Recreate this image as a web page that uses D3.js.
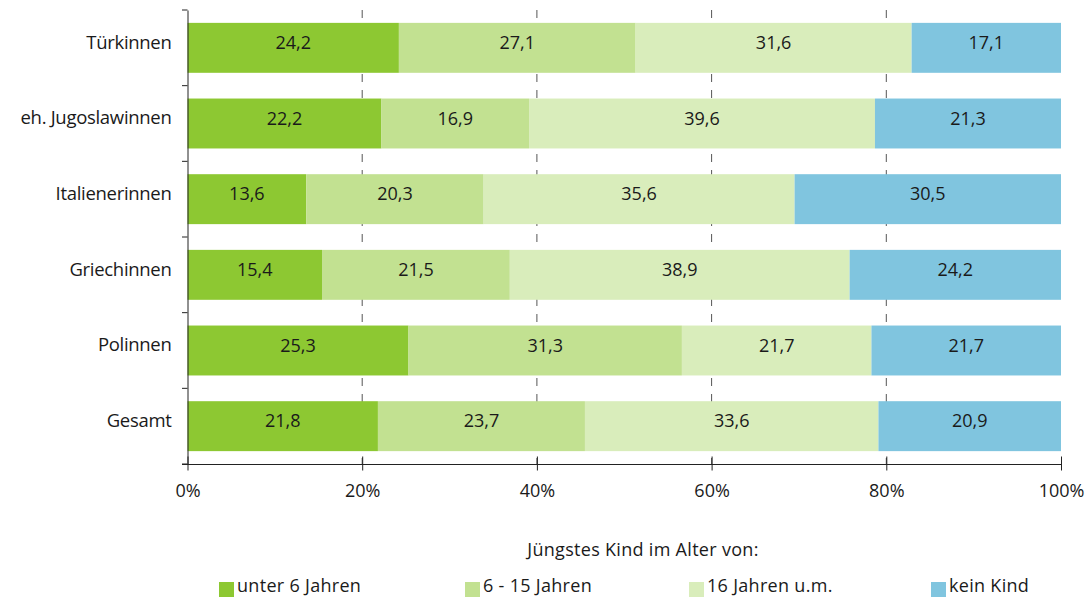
<!DOCTYPE html>
<html>
<head>
<meta charset="utf-8">
<script src="https://cdn.jsdelivr.net/npm/d3@7"></script>
<style>
  body { margin: 0; background: #fff; }
  text { font-family: "Open Sans", sans-serif; fill: #1a1a1a; }
</style>
</head>
<body>
<div id="chart-area"></div>
<script>
// data
let categories = ["Türkinnen", "eh. Jugoslawinnen", "Italienerinnen", "Griechinnen", "Polinnen", "Gesamt"]
let seriesNames = ["unter 6 Jahren", "6 - 15 Jahren", "16 Jahren u.m.", "kein Kind"]
let under6 = [24.2, 22.2, 13.6, 15.4, 25.3, 21.8]
let age6to15 = [27.1, 16.9, 20.3, 21.5, 31.3, 23.7]
let age16plus = [31.6, 39.6, 35.6, 38.9, 21.7, 33.6]
let noChild = [17.1, 21.3, 30.5, 24.2, 21.7, 20.9]
let tickValues = [0, 20, 40, 60, 80, 100]
let legendTitle = "Jüngstes Kind im Alter von:"

let colors = ["#8dc832", "#c2e191", "#d9edbb", "#80c5df"]

let rows = categories.map((c, i) => {
  return { cat: c, vals: [under6[i], age6to15[i], age16plus[i], noChild[i]] }
})

let svg = d3.select("#chart-area").append("svg")
            .attr("width", 1089)
            .attr("height", 601)

let x = d3.scaleLinear().domain([0, 100]).range([187.5, 1061])
let y = d3.scaleBand().domain(categories).range([10, 464]).paddingInner(0.34).paddingOuter(0.17)

// gridlines
svg.selectAll(".grid")
   .data([20, 40, 60, 80])
   .enter()
   .append("line")
   .attr("x1", d => x(d))
   .attr("x2", d => x(d))
   .attr("y1", 10)
   .attr("y2", 464)
   .attr("stroke", "#555")
   .attr("stroke-width", 1)
   .attr("stroke-dasharray", "8,8")

// bars
let groups = svg.selectAll(".row")
                .data(rows)
                .enter()
                .append("g")

groups.each(function(d) {
  let g = d3.select(this)
  let start = 0
  let segs = d.vals.map((v, k) => {
    let s = { x0: start, v: v, k: k }
    start += v
    return s
  })
  let total = start
  g.selectAll("rect")
   .data(segs)
   .enter()
   .append("rect")
   .attr("x", s => x(s.x0 / total * 100))
   .attr("y", y(d.cat))
   .attr("width", s => x(s.v / total * 100) - x(0))
   .attr("height", y.bandwidth())
   .attr("fill", s => colors[s.k])
  g.selectAll("text")
   .data(segs)
   .enter()
   .append("text")
   .attr("x", s => x((s.x0 + s.v / 2) / total * 100))
   .attr("y", y(d.cat) + y.bandwidth() / 2 - 5)
   .attr("dy", "0.35em")
   .attr("text-anchor", "middle")
   .style("font-size", "18px")
   .text(s => s.v.toFixed(1).replace(".", ","))
})

// y axis
let yAxis = d3.axisLeft(y).tickSize(0).tickPadding(16)
let yg = svg.append("g").attr("transform", "translate(187.5,0)").call(yAxis)
yg.select(".domain").attr("stroke", "#222")
yg.selectAll("text").style("font-size", "18.5px").style("letter-spacing", "-0.3px").attr("dy", "0.05em")
svg.selectAll(".ytick")
   .data(d3.range(categories.length + 1))
   .enter()
   .append("line")
   .attr("x1", 182)
   .attr("x2", 187.5)
   .attr("y1", i => 10 + i * (454 / categories.length))
   .attr("y2", i => 10 + i * (454 / categories.length))
   .attr("stroke", "#222")

// x axis
let xAxis = d3.axisBottom(x).tickValues(tickValues).tickSize(6).tickPadding(14).tickFormat(d => d + "%")
let xg = svg.append("g").attr("transform", "translate(0,464.5)").call(xAxis)
xg.select(".domain").attr("d", "M182,0H1061").attr("stroke", "#222")
xg.selectAll(".tick line").attr("y1", -8).attr("stroke", "#222")
xg.selectAll("text").style("font-size", "18px")

// legend
svg.append("text")
   .attr("x", 643)
   .attr("y", 556)
   .attr("text-anchor", "middle")
   .style("font-size", "18px")
   .style("letter-spacing", "0.3px")
   .text(legendTitle)

let legendX = [219, 465, 689, 931]
let leg = svg.selectAll(".leg")
             .data(seriesNames)
             .enter()
             .append("g")
             .attr("transform", (d, i) => "translate(" + legendX[i] + ",582)")
leg.append("rect")
   .attr("width", 15)
   .attr("height", 15)
   .attr("fill", (d, i) => colors[i])
leg.append("text")
   .attr("x", 18)
   .attr("y", 4)
   .attr("dy", "0.35em")
   .style("font-size", "18px")
   .style("letter-spacing", "0.3px")
   .text(d => d)
</script>
</body>
</html>
